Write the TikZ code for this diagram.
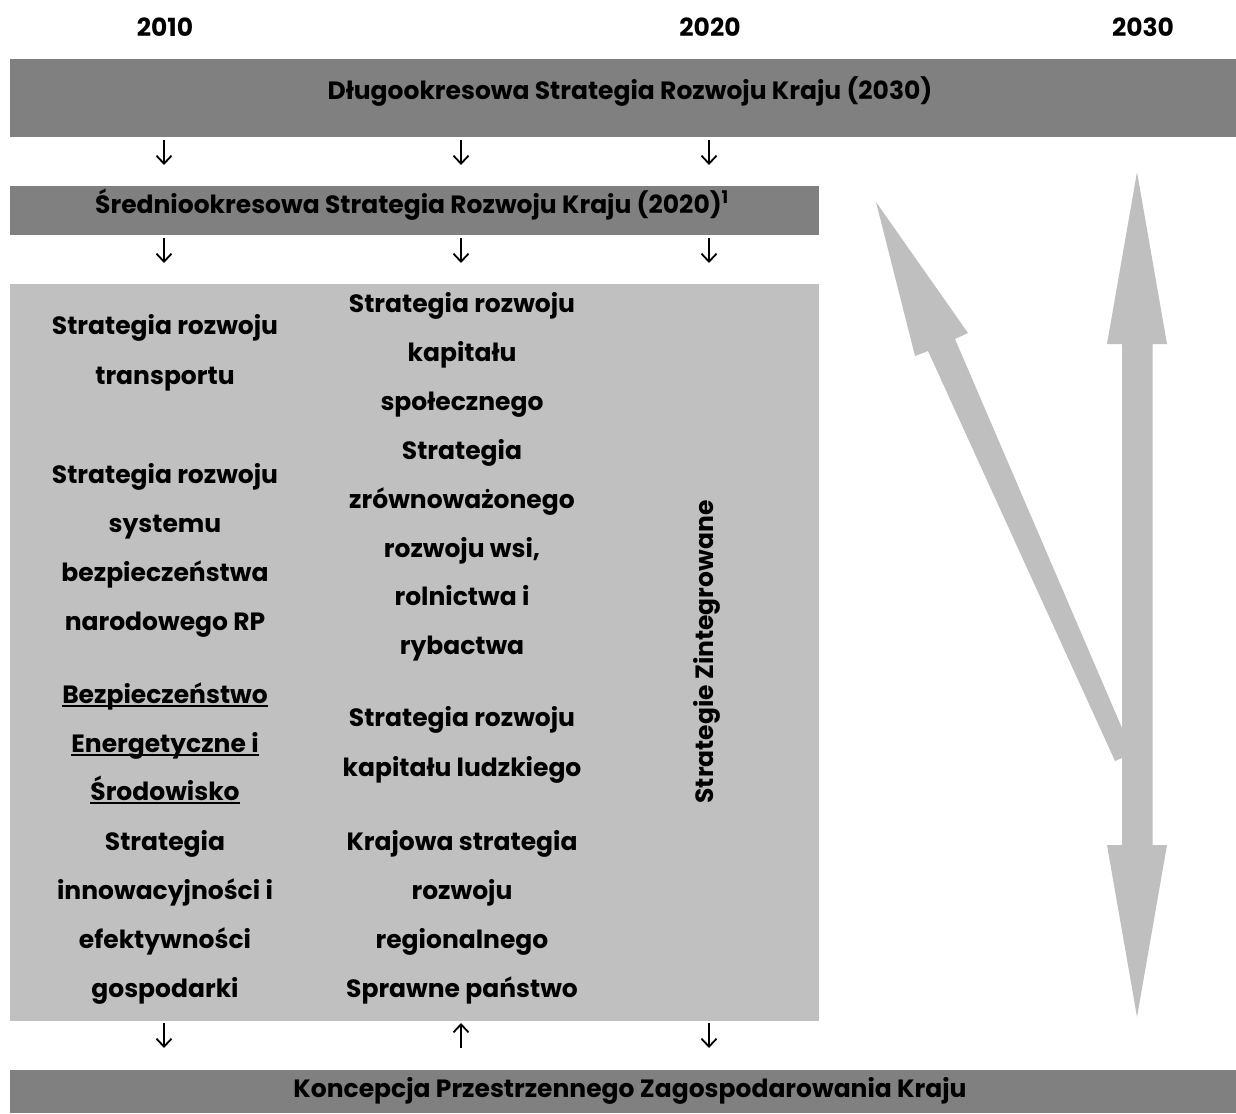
\documentclass[tikz,border=0pt]{standalone}
\usepackage{fontspec}
\setmainfont{Poppins}
\usetikzlibrary{arrows.meta}
\definecolor{darkbar}{HTML}{808080}
\definecolor{lightbox}{HTML}{C0C0C0}
\definecolor{bigarrow}{HTML}{BFBFBF}
\newcommand\myul[1]{\setbox0\hbox{#1}\rlap{\rule[-4pt]{\wd0}{2pt}}\box0}
\begin{document}
\begin{tikzpicture}[x=1pt,y=-1pt,
  lbl/.style={font=\fontsize{25}{30}\selectfont\bfseries, inner sep=0pt, anchor=base},
  bar/.style={fill=darkbar, draw=none, inner sep=0pt, anchor=north west},
  lightbar/.style={fill=lightbox, draw=none, inner sep=0pt, anchor=north west},
  smallarrow/.style={-{Straight Barb[length=8pt,width=15pt]}, line width=1.8pt},
]
\useasboundingbox (0,0) rectangle (1236,1113);

% bars
\node[bar, minimum width=1226pt, minimum height=78pt] (topbar) at (10,59) {};
\node[bar, minimum width=809pt, minimum height=49pt] (midbar) at (10,186) {};
\node[lightbar, minimum width=809pt, minimum height=737pt] (box) at (10,284) {};
\node[bar, minimum width=1226pt, minimum height=43pt] (botbar) at (10,1070) {};

% years
\node[lbl] (y2010) at (165,37) {2010};
\node[lbl] (y2020) at (710,37) {2020};
\node[lbl] (y2030) at (1143,37) {2030};

% bar texts
\node[lbl] (ttop) at (630,100) {Długookresowa Strategia Rozwoju Kraju (2030)};
\node[lbl] (tmid) at (412,213) {Średniookresowa Strategia Rozwoju Kraju (2020)\textsuperscript{1}};
\node[lbl] (tbot) at (630,1097) {Koncepcja Przestrzennego Zagospodarowania Kraju};

% small arrows
\coordinate (a1s) at (164,140); \coordinate (a1e) at (164,165);
\coordinate (a2s) at (461,140); \coordinate (a2e) at (461,165);
\coordinate (a3s) at (709,140); \coordinate (a3e) at (709,165);
\coordinate (b1s) at (164,238); \coordinate (b1e) at (164,263);
\coordinate (b2s) at (461,238); \coordinate (b2e) at (461,263);
\coordinate (b3s) at (709,238); \coordinate (b3e) at (709,263);
\coordinate (c1s) at (164,1023); \coordinate (c1e) at (164,1048);
\coordinate (c2s) at (461,1048); \coordinate (c2e) at (461,1023);
\coordinate (c3s) at (709,1023); \coordinate (c3e) at (709,1048);
\foreach \p in {a1,a2,a3,b1,b2,b3,c1,c2,c3}
  \draw[smallarrow] (\p s) -- (\p e);

% left column
\node[lbl] (l1) at (165,334) {Strategia rozwoju};
\node[lbl] (l2) at (165,384) {transportu};
\node[lbl] (l3) at (165,483) {Strategia rozwoju};
\node[lbl] (l4) at (165,532) {systemu};
\node[lbl] (l5) at (165,581) {bezpieczeństwa};
\node[lbl] (l6) at (165,630) {narodowego RP};
\node[lbl] (l7) at (165,703) {\myul{Bezpieczeństwo}};
\node[lbl] (l8) at (165,752) {\myul{Energetyczne i}};
\node[lbl] (l9) at (165,800) {\myul{Środowisko}};
\node[lbl] (l10) at (165,850) {Strategia};
\node[lbl] (l11) at (165,899) {innowacyjności i};
\node[lbl] (l12) at (165,948) {efektywności};
\node[lbl] (l13) at (165,997) {gospodarki};

% middle column
\node[lbl] (m1) at (462,312) {Strategia rozwoju};
\node[lbl] (m2) at (462,361) {kapitału};
\node[lbl] (m3) at (462,410) {społecznego};
\node[lbl] (m4) at (462,459) {Strategia};
\node[lbl] (m5) at (462,508) {zrównoważonego};
\node[lbl] (m6) at (462,557) {rozwoju wsi,};
\node[lbl] (m7) at (462,605) {rolnictwa i};
\node[lbl] (m8) at (462,654) {rybactwa};
\node[lbl] (m9) at (462,726) {Strategia rozwoju};
\node[lbl] (m10) at (462,776) {kapitału ludzkiego};
\node[lbl] (m11) at (462,850) {Krajowa strategia};
\node[lbl] (m12) at (462,899) {rozwoju};
\node[lbl] (m13) at (462,948) {regionalnego};
\node[lbl] (m14) at (462,997) {Sprawne państwo};

% vertical text
\node[lbl, rotate=90] (zint) at (713,652) {Strategie Zintegrowane};

% big grey arrows
\fill[bigarrow] (1137,172) -- (1167,344) -- (1152.5,344) -- (1152.5,845) -- (1167,845)
  -- (1137,1017) -- (1107,845) -- (1122,845) -- (1122,344) -- (1107,344) -- cycle;
\fill[bigarrow] (1122,728) -- (955,339) -- (968,333) -- (876,202) -- (915,356)
  -- (928,351) -- (1115,761) -- (1122,758) -- cycle;
\end{tikzpicture}
\end{document}
